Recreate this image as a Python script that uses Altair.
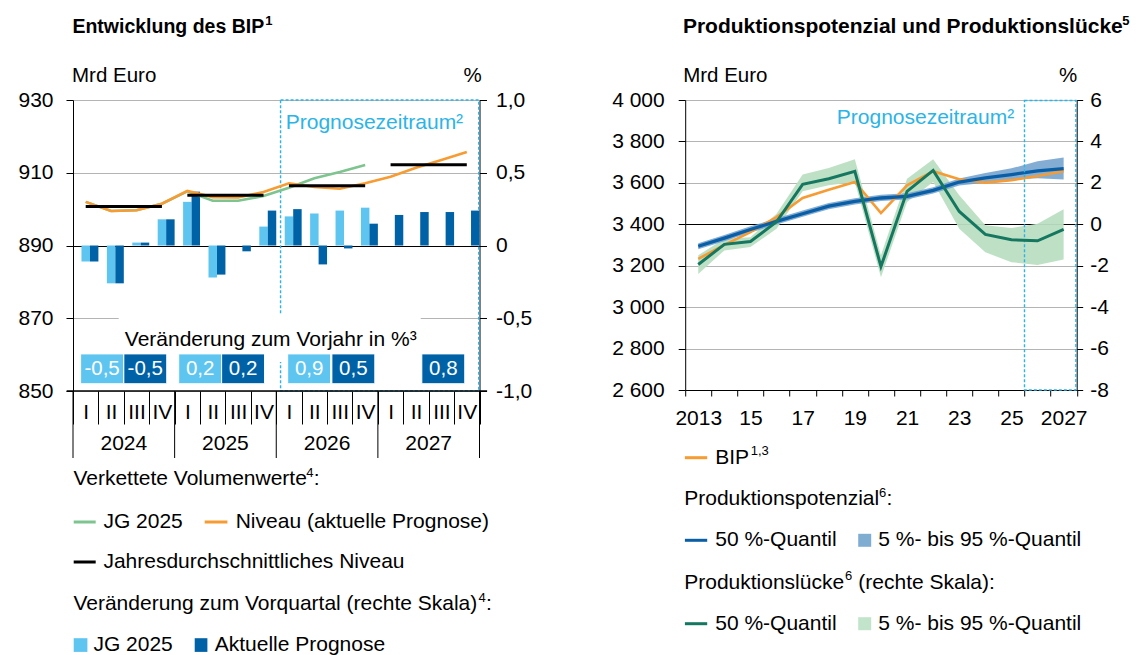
import altair as alt
import pandas as pd

FONT = "Liberation Sans"
GRID = "#b4b4b4"
LIGHT = "#5ec5f1"
DARK = "#0062a6"
ORANGE = "#f79b33"
JG_GREEN = "#7dc48f"
CYAN = "#2ab4e8"
POT_BLUE = "#0a5ea6"
POT_BAND = "#6f9fcc"
POT_SWATCH = "#7fadd1"
GAP_GREEN = "#15775f"
GAP_BAND = "#bbdfc3"

# ---------------- data: left panel ----------------
quarter_labels = ["I", "II", "III", "IV"]
years_left = [2024, 2025, 2026, 2027]
qoq_jg2025 = [-0.11, -0.26, 0.02, 0.18, 0.30, -0.22, 0.0, 0.13, 0.20, 0.22, 0.24, 0.26]
qoq_current = [-0.11, -0.26, 0.02, 0.18, 0.37, -0.20, -0.04, 0.24, 0.25, -0.13, -0.02, 0.15, 0.21, 0.23, 0.23, 0.24]
level_jg2025 = [902.0, 899.5, 899.7, 901.5, 904.9, 902.3, 902.3, 903.6, 905.9, 908.5, 910.2, 912.1]
level_current = [902.0, 899.5, 899.7, 901.5, 905.0, 903.3, 903.2, 904.7, 907.1, 906.1, 905.6, 907.1, 908.9, 911.4, 913.5, 915.7]
annual_level = [900.7, 903.8, 906.4, 912.2]
yoy_jg2025 = ["-0,5", "0,2", "0,9", None]
yoy_current = ["-0,5", "0,2", "0,5", "0,8"]

# ---------------- data: right panel ----------------
years_right = list(range(2013, 2028))
bip = [3233, 3301, 3362, 3435, 3527, 3567, 3604, 3454, 3588, 3656, 3617, 3601, 3613, 3633, 3656]
pot_q50 = [3294, 3333, 3375, 3414, 3451, 3488, 3511, 3527, 3535, 3564, 3604, 3624, 3640, 3658, 3669]
pot_q05 = [3279, 3318, 3360, 3399, 3436, 3473, 3496, 3512, 3520, 3549, 3587, 3600, 3615, 3622, 3616]
pot_q95 = [3309, 3348, 3390, 3429, 3466, 3503, 3526, 3542, 3550, 3579, 3621, 3648, 3670, 3704, 3722]
gap_q50 = [-1.94, -0.97, -0.83, 0.12, 1.93, 2.2, 2.56, -2.04, 1.59, 2.6, 0.62, -0.49, -0.75, -0.8, -0.25]
gap_q95 = [-1.5, -0.7, -0.62, 0.51, 2.4, 2.72, 3.14, -1.5, 2.2, 3.14, 1.4, -0.05, -0.18, 0.03, 0.72]
gap_q05 = [-2.4, -1.26, -1.1, -0.21, 1.59, 1.88, 2.04, -2.56, 1.07, 2.04, -0.21, -1.35, -1.83, -1.96, -1.7]

# ---------------- layout constants ----------------
W_L, H_L = 406.5, 291
W_R, H_R = 391.5, 290
SPACING = 205.2
FORECAST_LEFT = 8.17          # in quarter units
BOX_START_JG = [0.30, 4.16, 8.45, None]
BOX_START_CUR = [2.0, 5.85, 10.19, 13.73]
BOX_W = 1.69
BOX_Y = (852.0, 860.2)
LEG = 21      # legend font size
SUP = 13      # superscript font size

one = pd.DataFrame({"_": [0]})


def label(text, x, y, size=LEG, align="left", color="black", weight="normal"):
    return alt.Chart(one).mark_text(
        text=text, align=align, baseline="middle", fontSize=size, font=FONT,
        color=color, fontWeight=weight
    ).encode(x=alt.value(x), y=alt.value(y))


def sup(text, x, y, weight="normal"):
    return label(text, x, y - 6.5, size=SUP, weight=weight)


def hline(x1, x2, y, color, width=3):
    return alt.Chart(one).mark_rule(color=color, strokeWidth=width).encode(
        x=alt.value(x1), x2=alt.value(x2), y=alt.value(y))


def swatch(x1, x2, y1, y2, color):
    return alt.Chart(one).mark_rect(color=color).encode(
        x=alt.value(x1), x2=alt.value(x2), y=alt.value(y1), y2=alt.value(y2))


# ================= LEFT PANEL =================
XS_L = alt.Scale(domain=[0, 16], nice=False, zero=False)
XAX_L = alt.Axis(
    values=list(range(17)), title=None, grid=False, domain=False,
    tickSize=33, tickColor="black", tickWidth=1,
    labelExpr="datum.value >= 16 ? '' : (datum.value % 4 == 0 ? 'I' : (datum.value % 4 == 1 ? 'II' : (datum.value % 4 == 2 ? 'III' : 'IV')))",
    labelOffset=12.7, labelPadding=-23, labelBaseline="top", labelFontSize=21,
    labelFont=FONT, labelColor="black", labelFlush=False, labelOverlap=False, labelBound=False)
YS_MRD_L = alt.Scale(domain=[850, 930], nice=False, zero=False)
YAX_MRD_L = alt.Axis(
    values=[850, 870, 890, 910, 930], title=None, orient="left", grid=True,
    gridColor={"condition": {"test": "datum.value == 890", "value": "black"}, "value": GRID},
    gridWidth=1, domain=True, domainColor="black", tickColor="black", tickSize=7,
    labelPadding=13, labelFontSize=21, labelFont=FONT, labelColor="black")
YS_PCT_L = alt.Scale(domain=[-1, 1], nice=False, zero=False)
YAX_PCT_L = alt.Axis(
    values=[-1, -0.5, 0, 0.5, 1], title=None, orient="right", grid=False,
    domain=True, domainColor="black", tickColor="black", tickSize=7, labelPadding=9,
    labelExpr="datum.value == 0 ? '0' : replace(replace(format(datum.value, '.1f'), '.', ','), '−', '-')",
    labelFontSize=21, labelFont=FONT, labelColor="black")


def XL(f):
    return alt.X(f, type="quantitative", scale=XS_L, axis=XAX_L)


def YML(f, axis=None):
    return alt.Y(f, type="quantitative", scale=YS_MRD_L, axis=axis)


fc_df = pd.DataFrame({"x0": [FORECAST_LEFT], "x1": [15.97], "y0": [850], "y1": [930]})
bar_rows = []
for i, v in enumerate(qoq_jg2025):
    bar_rows.append({"x0": i + 1 / 3, "x1": i + 2 / 3, "val": v, "zero": 0, "series": "JG 2025"})
for i, v in enumerate(qoq_current):
    bar_rows.append({"x0": i + 2 / 3, "x1": i + 1, "val": v, "zero": 0, "series": "Aktuelle Prognose"})
bars_df = pd.DataFrame(bar_rows)
jg_df = pd.DataFrame({"pos": [i + 0.5 for i in range(len(level_jg2025))], "val": level_jg2025})
cur_df = pd.DataFrame({"pos": [i + 0.5 for i in range(len(level_current))], "val": level_current})
ann_df = pd.DataFrame({"x0": [k * 4 + 0.5 for k in range(4)], "x1": [k * 4 + 3.5 for k in range(4)], "val": annual_level})
box_rows = []
for k in range(4):
    if yoy_jg2025[k] is not None:
        s = BOX_START_JG[k]
        box_rows.append({"x0": s, "x1": s + BOX_W, "xm": s + BOX_W / 2, "txt": yoy_jg2025[k], "series": "JG 2025"})
    s = BOX_START_CUR[k]
    box_rows.append({"x0": s, "x1": s + BOX_W, "xm": s + BOX_W / 2, "txt": yoy_current[k], "series": "Aktuelle Prognose"})
box_df = pd.DataFrame(box_rows)
box_df["y0"] = BOX_Y[0]
box_df["y1"] = BOX_Y[1]
box_df["ym"] = (BOX_Y[0] + BOX_Y[1]) / 2
sep_df = pd.DataFrame({"b": [0, 4, 8, 12, 16]})
yl_df = pd.DataFrame({"year": [str(y) for y in years_left], "mid": [2, 6, 10, 14]})
bottom_df = pd.DataFrame({"x0": [-0.25], "x1": [16.3], "y": [850]})

series_color = alt.Color("series:N", scale=alt.Scale(domain=["JG 2025", "Aktuelle Prognose"], range=[LIGHT, DARK]), legend=None)

fc_rect = alt.Chart(fc_df).mark_rect(fillOpacity=0, stroke=CYAN, strokeDash=[3, 2], strokeWidth=1.4).encode(
    x=XL("x0"), x2=alt.X2("x1"), y=YML("y0", YAX_MRD_L), y2=alt.Y2("y1"))
white_bg = alt.Chart(fc_df).mark_rect(color="white").encode(
    x=alt.value(45.7), x2=alt.value(347.7), y=alt.value(214), y2=alt.value(262))
A1 = alt.layer(fc_rect, white_bg)

bars = alt.Chart(bars_df).mark_rect().encode(
    x=XL("x0"), x2=alt.X2("x1"),
    y=alt.Y("val", type="quantitative", scale=YS_PCT_L, axis=YAX_PCT_L), y2=alt.Y2("zero"),
    color=series_color)
B = alt.layer(bars)

jg_line = alt.Chart(jg_df).mark_line(color=JG_GREEN, strokeWidth=2.6).encode(x=XL("pos"), y=YML("val"))
cur_line = alt.Chart(cur_df).mark_line(color=ORANGE, strokeWidth=2.6).encode(x=XL("pos"), y=YML("val"))
ann_rule = alt.Chart(ann_df).mark_rule(color="black", strokeWidth=3).encode(x=XL("x0"), x2=alt.X2("x1"), y=YML("val"))
boxes = alt.Chart(box_df).mark_rect(stroke="white", strokeWidth=1).encode(
    x=XL("x0"), x2=alt.X2("x1"), y=YML("y0"), y2=alt.Y2("y1"), color=series_color)
box_txt = alt.Chart(box_df).mark_text(color="white", fontSize=20.5, font=FONT, baseline="middle").encode(
    x=XL("xm"), y=YML("ym"), text="txt:N")
bottom_rule = alt.Chart(bottom_df).mark_rule(color="black", strokeWidth=1.5).encode(
    x=XL("x0"), x2=alt.X2("x1"), y=YML("y"))
seps = alt.Chart(sep_df).mark_rule(color="black", strokeWidth=1).encode(
    x=XL("b"), y=alt.value(H_L), y2=alt.value(H_L + 67))
year_lbl = alt.Chart(yl_df).mark_text(fontSize=21, font=FONT, color="black", baseline="middle").encode(
    x=XL("mid"), y=alt.value(344), text="year:N")
anchor = alt.Chart(one).mark_rule(color="white", strokeWidth=0.5).encode(
    x=alt.value(-64.3), y=alt.value(-91), y2=alt.value(-90.5))

left_texts = [
    label("Entwicklung des BIP", -0.6, -73, size=19.5, weight="bold"),
    sup("1", 192.2, -73, weight="bold"),
    label("Mrd Euro", -1, -24, size=20.5),
    label("%", 408.7, -24, size=20.5, align="right"),
    label("Prognosezeitraum²", 212.7, 23, size=21, color=CYAN),
    label("Veränderung zum Vorjahr in %³", 197.7, 240.3, size=21, align="center"),
    label("Verkettete Volumenwerte", 0.4, 379),
    sup("4", 233.3, 379),
    label(":", 240.8, 379),
    hline(0.7, 22.7, 422, JG_GREEN),
    label("JG 2025", 30.4, 422),
    hline(131.7, 154.4, 422, ORANGE),
    label("Niveau (aktuelle Prognose)", 162.7, 422),
    hline(0.7, 22.7, 462, "black"),
    label("Jahresdurchschnittliches Niveau", 30.4, 462),
    label("Veränderung zum Vorquartal (rechte Skala)", 0.4, 504.3),
    sup("4", 405.5, 504.3),
    label(":", 413.0, 504.3),
    swatch(0.7, 14.4, 538.2, 551.9, LIGHT),
    label("JG 2025", 20.4, 545),
    swatch(121.7, 134.4, 538.2, 551.9, DARK),
    label("Aktuelle Prognose", 141.7, 545),
]

A2 = alt.layer(jg_line, cur_line, ann_rule, bottom_rule, seps, year_lbl, boxes, box_txt, anchor, *left_texts)

left = alt.layer(A1, B, A2).resolve_scale(y="independent").properties(width=W_L, height=H_L)

# ================= RIGHT PANEL =================
XS_R = alt.Scale(type="band", domain=years_right, paddingInner=0, paddingOuter=0)
XAX_R = alt.Axis(
    title=None, tickBand="extent", tickSize=6, tickColor="black", domain=True, domainColor="black",
    grid=False, labelAngle=0,
    labelExpr="datum.value == 2013 || datum.value == 2027 ? datum.label : (datum.value % 2 == 1 ? substring(datum.label, 2) : '')",
    labelPadding=11, labelFontSize=21, labelFont=FONT, labelColor="black", labelOverlap=False)
YS_MRD_R = alt.Scale(domain=[2600, 4000], nice=False, zero=False)
YAX_MRD_R = alt.Axis(
    values=list(range(2600, 4001, 200)), title=None, orient="left", grid=True,
    gridColor={"condition": {"test": "datum.value == 3400", "value": "black"}, "value": GRID},
    gridWidth=1, domain=True, domainColor="black", tickColor="black", tickSize=7, labelPadding=14,
    labelExpr="replace(format(datum.value, ','), ',', ' ')",
    labelFontSize=21, labelFont=FONT, labelColor="black")
YS_GAP = alt.Scale(domain=[-8, 6], nice=False, zero=False)
YAX_GAP = alt.Axis(
    values=list(range(-8, 7, 2)), title=None, orient="right", grid=False, domain=True,
    domainColor="black", tickColor="black", tickSize=6, labelPadding=7,
    labelExpr="replace(format(datum.value, 'd'), '−', '-')",
    labelFontSize=21, labelFont=FONT, labelColor="black")


def XR(f):
    return alt.X(f, type="ordinal", scale=XS_R, axis=XAX_R)


right_df = pd.DataFrame({
    "year": years_right, "bip": bip, "pq50": pot_q50, "pq05": pot_q05, "pq95": pot_q95,
    "gq50": gap_q50, "gq05": gap_q05, "gq95": gap_q95})

g_band = alt.Chart(right_df).mark_area(color=GAP_BAND, opacity=0.95).encode(
    x=XR("year"), y=alt.Y("gq05", type="quantitative", scale=YS_GAP, axis=None), y2=alt.Y2("gq95"))
G1 = alt.layer(g_band)


def YMR(f):
    return alt.Y(f, type="quantitative", scale=YS_MRD_R, axis=YAX_MRD_R)


p_band = alt.Chart(right_df).mark_area(color=POT_BAND, opacity=0.85).encode(
    x=XR("year"), y=YMR("pq05"), y2=alt.Y2("pq95"))
bip_line = alt.Chart(right_df).mark_line(color=ORANGE, strokeWidth=2.6).encode(x=XR("year"), y=YMR("bip"))
pot_line = alt.Chart(right_df).mark_line(color=POT_BLUE, strokeWidth=3.3).encode(x=XR("year"), y=YMR("pq50"))
fc_rect_r = alt.Chart(one).mark_rect(fillOpacity=0, stroke=CYAN, strokeDash=[3, 2], strokeWidth=1.4).encode(
    x=alt.value(W_R * 13 / 15), x2=alt.value(W_R - 0.8), y=alt.value(0.5), y2=alt.value(H_R))

right_texts = [
    label("Produktionspotenzial und Produktionslücke", -2.3, -73, size=21, weight="bold"),
    sup("5", 437.0, -73, weight="bold"),
    label("Mrd Euro", -2, -24, size=20.5),
    label("%", 392, -24, size=20.5, align="right"),
    label("Prognosezeitraum²", 329, 17.7, size=21, color=CYAN, align="right"),
    hline(-0.3, 22, 357.7, ORANGE),
    label("BIP", 30, 357.7),
    sup("1,3", 65.5, 357.7),
    label("Produktionspotenzial", -1, 399),
    sup("6", 193.8, 399),
    label(":", 201.3, 399),
    hline(-0.3, 22, 440.3, POT_BLUE),
    label("50 %-Quantil", 30, 440.3),
    swatch(173, 186, 433.8, 446.8, POT_SWATCH),
    label("5 %- bis 95 %-Quantil", 193, 440.3),
    label("Produktionslücke", -1, 482.7),
    sup("6", 159.8, 482.7),
    label("(rechte Skala):", 173.1, 482.7),
    hline(-0.3, 22, 523.7, GAP_GREEN),
    label("50 %-Quantil", 30, 523.7),
    swatch(173, 186, 517.2, 530.2, "#c2e4ca"),
    label("5 %- bis 95 %-Quantil", 193, 523.7),
]
M = alt.layer(p_band, bip_line, pot_line, fc_rect_r, *right_texts)

g_line = alt.Chart(right_df).mark_line(color=GAP_GREEN, strokeWidth=3).encode(
    x=XR("year"), y=alt.Y("gq50", type="quantitative", scale=YS_GAP, axis=YAX_GAP))
G2 = alt.layer(g_line)

right = alt.layer(G1, M, G2).resolve_scale(y="independent").properties(width=W_R, height=H_R)

chart = alt.hconcat(left, right, spacing=SPACING, bounds="flush").properties(
    padding=0
).configure_view(stroke=None).configure_axis(labelFont=FONT)

chart.save("out.html", embed_options={"renderer": "svg", "actions": False})
